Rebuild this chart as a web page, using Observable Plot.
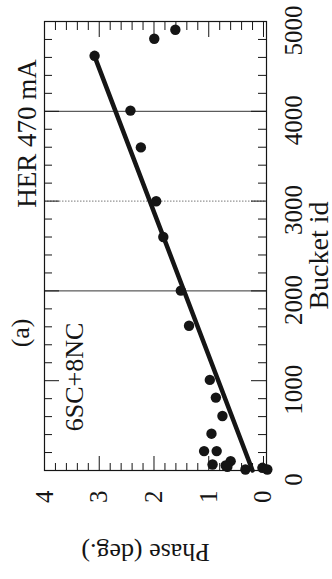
<!DOCTYPE html>
<html><head><meta charset="utf-8">
<script src="https://cdn.jsdelivr.net/npm/d3@7"></script>
<script src="https://cdn.jsdelivr.net/npm/@observablehq/plot@0.6"></script>
<style>
html,body{margin:0;padding:0;background:#fff;width:332px;height:579px;overflow:hidden;}
#wrap{position:absolute;left:0;top:0;width:579px;height:332px;transform-origin:0 0;transform:translate(0px,579px) rotate(-90deg);}
#wrap svg{max-width:none;display:block;}
</style></head><body><div id="wrap"></div>
<script>
// Measured points: bucket id and phase (deg.)
const bucket = [4618, 4808, 4908, 4008, 3598, 2998, 2600, 2003, 1612, 1009, 812, 607, 410, 216, 216, 67, 56, 104, 41, 11, 30, 11];
const phase  = [3.085, 1.995, 1.61, 2.43, 2.24, 1.96, 1.83, 1.51, 1.36, 0.98, 0.87, 0.75, 0.95, 1.085, 0.855, 0.93, 0.69, 0.60, 0.66, 0.33, 0.02, -0.07];
// Fitted line end points
const fitBucket = [0, 4620];
const fitPhase  = [0.2, 3.09];
// Reference lines
const solidLines  = [2000, 4000];
const dottedLines = [3000];
// Ticks
const bucketTicks = [0, 1000, 2000, 3000, 4000, 5000];
const bucketMinor = [200, 400, 600, 800, 1200, 1400, 1600, 1800, 2200, 2400, 2600, 2800, 3200, 3400, 3600, 3800, 4200, 4400, 4600, 4800];
const phaseTicks  = [0, 1, 2, 3, 4];
const phaseMinor  = [0.2, 0.4, 0.6, 0.8, 1.2, 1.4, 1.6, 1.8, 2.2, 2.4, 2.6, 2.8, 3.2, 3.4, 3.6, 3.8];
// Annotations
const noteText   = ["HER 470 mA", "(a)", "6SC+8NC"];
const noteBucket = [3753, 1532, 1041];
const xTitle = ["Bucket id"];
const xTitleBucket = [2394];
const yTitle = ["Phase (deg.)"];

const W = 579, H = 332, mL = 108, mR = 22, mT = 44, mB = 66;
const fw = W - mL - mR, fh = H - mT - mB;
const serif = "'Liberation Serif', 'Times New Roman', serif";
const ink = "#151515";

const points = bucket.map((b, i) => ({b, p: phase[i]}));
const fit = fitBucket.map((b, i) => ({b, p: fitPhase[i]}));
const notes = noteText.map((t, i) => ({t, b: noteBucket[i]}));

const chart = Plot.plot({
  width: W, height: H,
  marginLeft: mL, marginRight: mR, marginTop: mT, marginBottom: mB,
  style: {background: "#fff", maxWidth: "none", overflow: "visible"},
  x: {domain: [0, 5000], axis: null},
  y: {domain: [-0.055, 4], axis: null},
  marks: [
    Plot.ruleX(solidLines, {x: d => d, stroke: "#333", strokeWidth: 1}),
    Plot.ruleX(dottedLines, {x: d => d, stroke: "#777", strokeWidth: 1, strokeDasharray: "1.5,1.5"}),
    // ticks pointing inward, on all four sides
    Plot.ruleX(bucketTicks, {x: d => d, insetTop: fh - 15, stroke: ink}),
    Plot.ruleX(bucketTicks, {x: d => d, insetBottom: fh - 15, stroke: ink}),
    Plot.ruleX(bucketMinor, {x: d => d, insetTop: fh - 8, stroke: ink}),
    Plot.ruleX(bucketMinor, {x: d => d, insetBottom: fh - 8, stroke: ink}),
    Plot.ruleY(phaseTicks, {y: d => d, insetRight: fw - 15, stroke: ink}),
    Plot.ruleY(phaseTicks, {y: d => d, insetLeft: fw - 15, stroke: ink}),
    Plot.ruleY(phaseMinor, {y: d => d, insetRight: fw - 8, stroke: ink}),
    Plot.ruleY(phaseMinor, {y: d => d, insetLeft: fw - 8, stroke: ink}),
    Plot.frame({stroke: ink, strokeWidth: 1.2}),
    Plot.line(fit, {x: "b", y: "p", stroke: ink, strokeWidth: 4.5}),
    Plot.dot(points, {x: "b", y: "p", r: 5.2, fill: ink, stroke: null}),
    // tick labels
    Plot.text(bucketTicks, {x: d => d, text: d => String(d), frameAnchor: "bottom", lineAnchor: "top", dy: 18, dx: -9,
      fontSize: 25, fontFamily: serif, fill: ink}),
    Plot.text(phaseTicks, {y: d => d, text: d => String(d), frameAnchor: "left", textAnchor: "end", lineAnchor: "middle", dx: -20,
      fontSize: 25, fontFamily: serif, fill: ink}),
    // axis titles
    Plot.text(xTitle, {x: xTitleBucket, text: d => d, frameAnchor: "bottom", textAnchor: "middle", lineAnchor: "bottom", dy: 61,
      fontSize: 28, fontFamily: serif, fill: ink}),
    Plot.text(yTitle, {text: d => d, frameAnchor: "left", rotate: -90, textAnchor: "middle", lineAnchor: "middle", dx: -82, dy: -10,
      fontSize: 26, fontFamily: serif, fill: ink}),
    // annotations
    Plot.text([notes[0]], {x: "b", text: "t", frameAnchor: "top", textAnchor: "middle", lineAnchor: "bottom", dy: -9,
      fontSize: 27, fontFamily: serif, fill: ink}),
    Plot.text([notes[1]], {x: "b", text: "t", frameAnchor: "top", textAnchor: "middle", lineAnchor: "bottom", dy: -16,
      fontSize: 26, fontFamily: serif, fill: ink}),
    Plot.text([notes[2]], {x: "b", text: "t", frameAnchor: "top", textAnchor: "middle", lineAnchor: "bottom", dy: 38,
      fontSize: 26, fontFamily: serif, fill: ink})
  ]
});
document.getElementById("wrap").appendChild(chart);
</script>
</body></html>
